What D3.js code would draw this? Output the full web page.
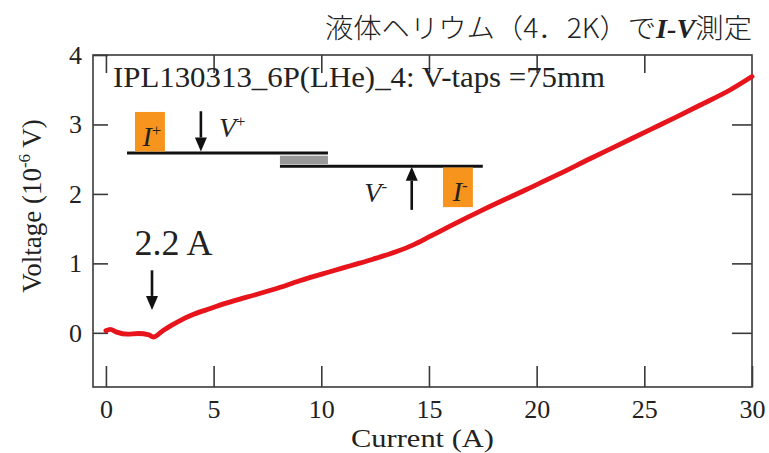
<!DOCTYPE html>
<html>
<head>
<meta charset="utf-8">
<script src="https://cdn.jsdelivr.net/npm/d3@7"></script>
<style>
  html, body { margin: 0; padding: 0; background: #fff; }
  svg { display: block; }
  text { font-family: "Liberation Serif", "Noto Sans CJK JP", serif; fill: #222; }
</style>
</head>
<body>
<svg id="chart" width="769" height="453"></svg>
<script>
// ---- data ----
const current = [0.0, 0.2, 0.5, 1.0, 1.5, 2.0, 2.2, 2.6, 3.0, 3.4, 4.1, 4.85, 5.5, 6.5, 7.85, 9.0, 10.4, 11.4, 12.4, 13.5, 14.3, 15.0, 16.0, 17.5, 19.5, 21.0, 22.5, 23.5, 25.3, 26.5, 27.6, 29.0, 30.0];
const voltage = [0.03, 0.05, 0.01, -0.02, -0.01, -0.03, -0.06, 0.02, 0.10, 0.17, 0.27, 0.35, 0.42, 0.51, 0.63, 0.75, 0.88, 0.97, 1.06, 1.17, 1.27, 1.38, 1.54, 1.77, 2.06, 2.28, 2.51, 2.66, 2.93, 3.11, 3.28, 3.50, 3.69];
const xTicks = [0, 5, 10, 15, 20, 25, 30];
const yTicks = [0, 1, 2, 3, 4];
const titleText = "液体ヘリウム（4．2K）で";
const titleItalic = "I-V";
const titleEnd = "測定";
const sampleText = "IPL130313_6P(LHe)_4: V-taps =75mm";
const xLabel = "Current (A)";
const onsetLabel = "2.2 A";

// ---- layout ----
const svg = d3.select("#chart");
const x = d3.scaleLinear().domain([-0.6, 30]).range([93, 752]);
const y = d3.scaleLinear().domain([-0.78, 4]).range([387, 55]);
const frameColor = "#3a3a3a";

// frame
svg.append("rect")
  .attr("x", x.range()[0]).attr("y", y.range()[1])
  .attr("width", x.range()[1] - x.range()[0])
  .attr("height", y.range()[0] - y.range()[1])
  .attr("fill", "none").attr("stroke", frameColor).attr("stroke-width", 1.6);

function styleAxis(g) {
  g.select(".domain").remove();
  g.selectAll(".tick line").attr("stroke", frameColor).attr("stroke-width", 1.6);
  g.selectAll(".tick text").attr("fill", "#222")
    .style("font-family", '"Liberation Serif", serif').style("font-size", "26px");
}

// bottom axis
svg.append("g").attr("transform", `translate(0,${y.range()[0]})`)
  .call(d3.axisBottom(x).tickValues(xTicks).tickSize(-21).tickPadding(13).tickFormat(d3.format("d")))
  .call(styleAxis);
// top axis
svg.append("g").attr("transform", `translate(0,${y.range()[1]})`)
  .call(d3.axisTop(x).tickValues(xTicks.slice(0, -1)).tickSize(-18).tickFormat(""))
  .call(styleAxis);
// left axis
svg.append("g").attr("transform", `translate(${x.range()[0]},0)`)
  .call(d3.axisLeft(y).tickValues(yTicks).tickSize(-15).tickPadding(11).tickFormat(d3.format("d")))
  .call(styleAxis);
// right axis
svg.append("g").attr("transform", `translate(${x.range()[1]},0)`)
  .call(d3.axisRight(y).tickValues(yTicks.slice(0, -1)).tickSize(-20).tickFormat(""))
  .call(styleAxis);

// axis titles
svg.append("text")
  .attr("x", (x.range()[0] + x.range()[1]) / 2).attr("y", 447)
  .attr("text-anchor", "middle").style("font-size", "26px")
  .attr("textLength", 143).attr("lengthAdjust", "spacingAndGlyphs")
  .text(xLabel);

const yl = svg.append("text")
  .attr("transform", "translate(41,206) rotate(-90)")
  .attr("text-anchor", "middle").style("font-size", "27px");
yl.append("tspan").text("Voltage (10");
yl.append("tspan").attr("dy", -11).style("font-size", "17px").text("-6");
yl.append("tspan").attr("dy", 11).text(" V)");

// title
const tt = svg.append("text")
  .attr("x", 752).attr("y", 38).attr("text-anchor", "end")
  .style("font-size", "27px")
  .attr("textLength", 427).attr("lengthAdjust", "spacingAndGlyphs");
tt.append("tspan").style("font-family", '"Noto Sans CJK JP", sans-serif').style("font-weight", "300").text(titleText);
tt.append("tspan").style("font-style", "italic").style("font-weight", "bold").text(titleItalic);
tt.append("tspan").style("font-family", '"Noto Sans CJK JP", sans-serif').style("font-weight", "300").text(titleEnd);

// sample text
svg.append("text")
  .attr("x", x(0.33)).attr("y", y(3.54))
  .style("font-size", "30px")
  .attr("textLength", 492).attr("lengthAdjust", "spacingAndGlyphs")
  .text(sampleText);

// ---- data curve ----
const pts = current.map((c, i) => [c, voltage[i]]);
svg.append("path")
  .datum(pts)
  .attr("fill", "none")
  .attr("stroke", "#e8141b")
  .attr("stroke-width", 4.8)
  .attr("stroke-linejoin", "round")
  .attr("stroke-linecap", "round")
  .attr("d", d3.line().x(d => x(d[0])).y(d => y(d[1])).curve(d3.curveMonotoneX));

// ---- schematic annotation (positions in data units) ----
function arrow(xv, yFrom, yTo) {
  const x0 = x(xv), y0 = y(yFrom), y1 = y(yTo);
  const dir = y1 > y0 ? 1 : -1;
  const head = 14;
  svg.append("line").attr("x1", x0).attr("x2", x0).attr("y1", y0).attr("y2", y1 - dir * head)
    .attr("stroke", "#111").attr("stroke-width", 2.6);
  svg.append("path")
    .attr("d", `M${x0 - 6},${y1 - dir * head} L${x0 + 6},${y1 - dir * head} L${x0},${y1} Z`)
    .attr("fill", "#111");
}
function box(i0, i1, v0, v1) {
  svg.append("rect")
    .attr("x", x(i0)).attr("y", y(v0))
    .attr("width", x(i1) - x(i0)).attr("height", y(v1) - y(v0))
    .attr("fill", "#f7941d");
}
function label(iv, vv, main, sup, size) {
  const t = svg.append("text").attr("x", x(iv)).attr("y", y(vv))
    .style("font-size", size + "px").style("font-style", "italic").attr("fill", "#222");
  t.append("tspan").text(main);
  t.append("tspan").attr("dy", -size * 0.35).style("font-size", (size * 0.6) + "px").style("font-style", "normal").text(sup);
}

// wire lines
svg.append("rect").attr("x", x(8.08)).attr("y", y(2.55)).attr("width", x(10.31) - x(8.08))
  .attr("height", y(2.43) - y(2.55)).attr("fill", "#999");
svg.append("line").attr("x1", x(0.98)).attr("x2", x(10.31)).attr("y1", y(2.59)).attr("y2", y(2.59))
  .attr("stroke", "#111").attr("stroke-width", 3);
svg.append("line").attr("x1", x(8.08)).attr("x2", x(17.5)).attr("y1", y(2.40)).attr("y2", y(2.40))
  .attr("stroke", "#111").attr("stroke-width", 3);

box(1.35, 2.74, 3.18, 2.61);
label(1.7, 2.69, "I", "+", 28);
box(15.65, 17.04, 2.38, 1.81);
label(16.1, 1.9, "I", "-", 28);

arrow(4.41, 3.19, 2.61);
label(5.25, 2.82, "V", "+", 28);
arrow(14.2, 1.77, 2.39);
label(12.0, 1.88, "V", "-", 28);

// onset annotation
svg.append("text").attr("x", x(1.33)).attr("y", y(1.12))
  .style("font-size", "36px").text(onsetLabel);
arrow(2.14, 0.90, 0.33);
</script>
</body>
</html>
